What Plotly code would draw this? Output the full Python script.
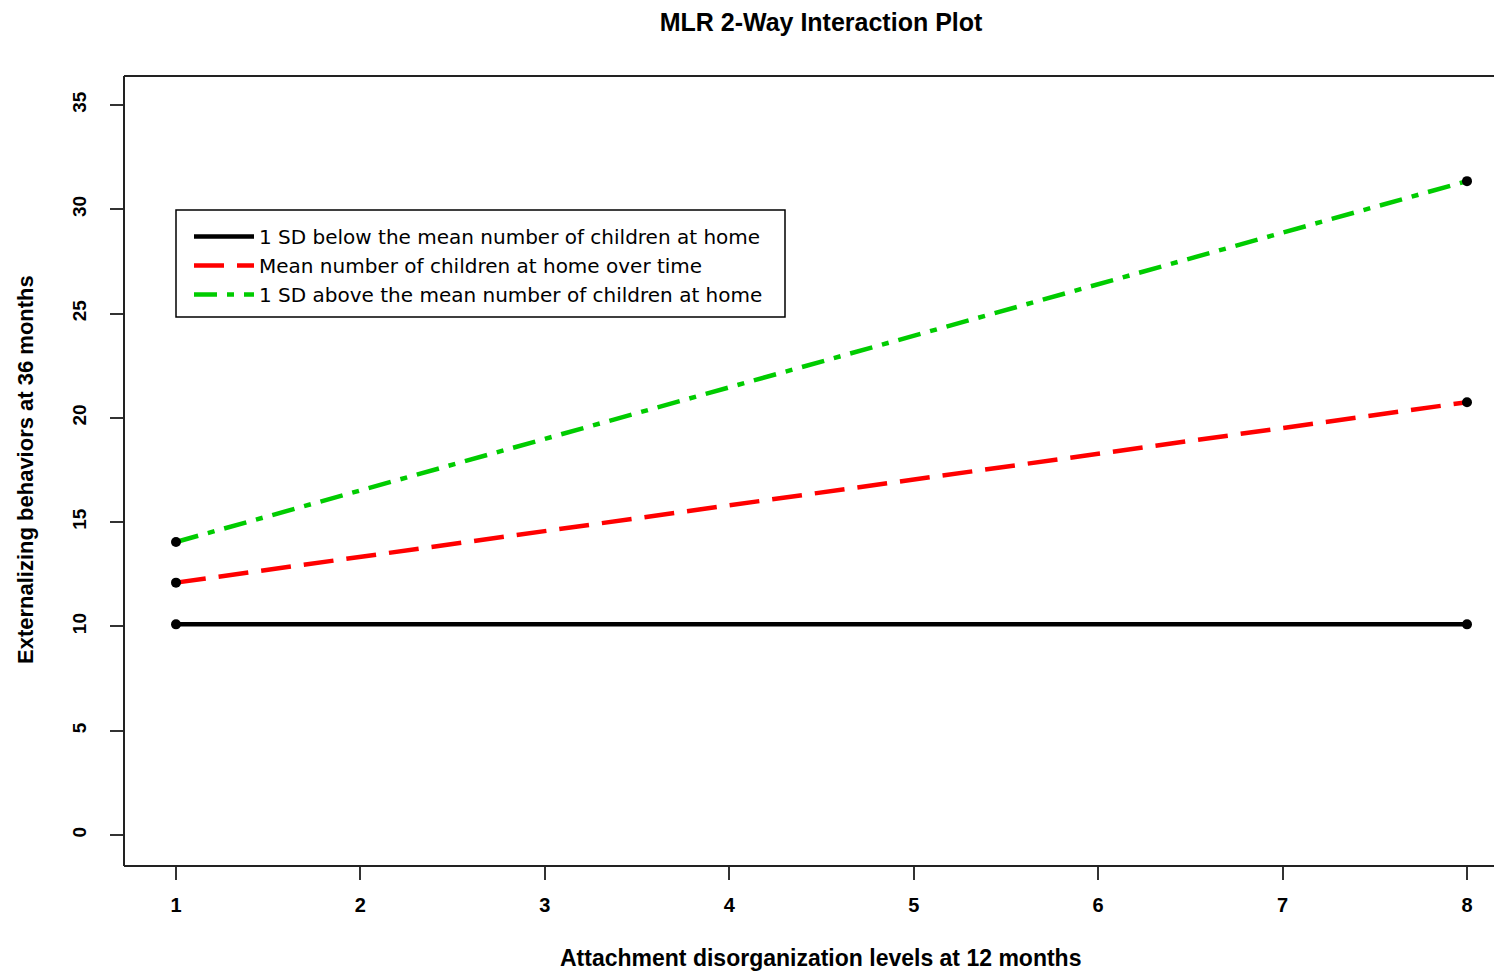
import plotly.graph_objects as go

x_levels = [1, 8]
below_sd = [10.1, 10.1]
mean_kids = [12.1, 20.75]
above_sd = [14.05, 31.35]
series_names = [
    "1 SD below the mean number of children at home",
    "Mean number of children at home over time",
    "1 SD above the mean number of children at home",
]
x_ticks = [1, 2, 3, 4, 5, 6, 7, 8]
y_ticks = [0, 5, 10, 15, 20, 25, 30, 35]

FONT = "Liberation Sans, Arial, Helvetica, sans-serif"
LFONT = "DejaVu Sans, Liberation Sans, sans-serif"

# the page has an 8px body margin; work in page pixels and shift
OFF = 8
W, H = 1502 - OFF, 974 - OFF
L = 124 - OFF
T = 76 - OFF
PLOT_RIGHT = 1500 - OFF
PLOT_BOTTOM = 866 - OFF
R = W - PLOT_RIGHT
B = H - PLOT_BOTTOM
pw = PLOT_RIGHT - L
ph = PLOT_BOTTOM - T


def px_x(page_x):
    return (page_x - OFF - L) / pw


def px_y(page_y):
    return (PLOT_BOTTOM - (page_y - OFF)) / ph


fig = go.Figure()
styles = [
    dict(color="black", width=4.5, dash="solid"),
    dict(color="#ff0000", width=4.5, dash="30px,13px"),
    dict(color="#00cc00", width=4.5, dash="23px,10px,7px,10px"),
]
for name, ys, st in zip(series_names, [below_sd, mean_kids, above_sd], styles):
    fig.add_trace(go.Scatter(x=x_levels, y=ys, mode="lines", name=name, line=st))
for ys in [below_sd, mean_kids, above_sd]:
    fig.add_trace(go.Scatter(x=x_levels, y=ys, mode="markers", showlegend=False,
                             marker=dict(color="black", size=10)))

fig.update_layout(
    width=W, height=H,
    margin=dict(l=L, r=R, t=T, b=B),
    paper_bgcolor="white", plot_bgcolor="white",
    font=dict(family=FONT, color="black"),
    title=dict(text="<b>MLR 2-Way Interaction Plot</b>", x=px_x(821), xref="paper",
               xanchor="center", y=1 - (22 - OFF) / H, yanchor="middle",
               font=dict(size=25, family=FONT)),
    showlegend=True,
    legend=dict(x=px_x(189), y=px_y(217), xanchor="left", yanchor="top",
                borderwidth=0, bgcolor="rgba(0,0,0,0)",
                font=dict(size=20, family=LFONT), tracegroupgap=0,
                itemwidth=60),
    xaxis=dict(range=[1 - 52 / 184.43, 8 + 33 / 184.43], tickvals=x_ticks,
               ticktext=[str(v) for v in x_ticks],
               showgrid=False, zeroline=False, showline=False,
               ticks="outside", ticklen=13, tickwidth=1.5, tickcolor="#333",
               tickfont=dict(size=20, family=FONT, weight="bold"),
               ticklabelstandoff=8),
    yaxis=dict(range=[(835 - 866) / 20.857, (835 - 76) / 20.857], tickvals=y_ticks,
               ticktext=[str(v) for v in y_ticks],
               showgrid=False, zeroline=False, showline=False,
               ticks="outside", ticklen=13, tickwidth=1.5, tickcolor="#333",
               tickangle=-90,
               tickfont=dict(size=19, family=FONT, weight="bold"),
               ticklabelstandoff=16),
)

# plot frame: left, top, bottom (right side lies beyond the image edge)
for x0, y0, x1, y1 in [(0, 0, 0, 1), (0, 1, 1, 1), (0, 0, 1, 0)]:
    fig.add_shape(type="line", xref="paper", yref="paper", x0=x0, y0=y0, x1=x1, y1=y1,
                  line=dict(color="#222", width=2))

# legend frame
fig.add_shape(type="rect", xref="paper", yref="paper",
              x0=px_x(176), x1=px_x(785), y0=px_y(317), y1=px_y(210),
              line=dict(color="black", width=1.5), fillcolor="rgba(0,0,0,0)")

fig.add_annotation(text="<b>Attachment disorganization levels at 12 months</b>",
                   xref="paper", yref="paper", x=px_x(820), y=px_y(958),
                   xanchor="center", yanchor="middle", showarrow=False,
                   font=dict(size=23, family=FONT))
fig.add_annotation(text="<b>Externalizing behaviors at 36 months</b>",
                   xref="paper", yref="paper", x=px_x(25), y=px_y(470),
                   xanchor="center", yanchor="middle", showarrow=False, textangle=-90,
                   font=dict(size=22, family=FONT))

fig.write_html("out.html")
